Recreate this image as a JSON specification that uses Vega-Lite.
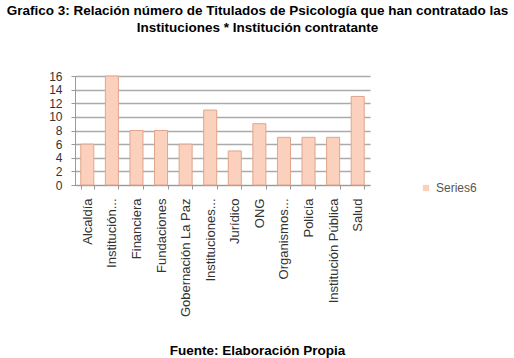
{
  "$schema": "https://vega.github.io/schema/vega-lite/v6.json",
  "width": 295,
  "height": 109,
  "autosize": {"type": "none"},
  "padding": {"left": 75, "top": 76, "right": 144, "bottom": 173},
  "background": "white",
  "title": {
    "text": ["Grafico 3: Relación número de Titulados de Psicología que han contratado las", "Instituciones * Institución contratante"],
    "font": "Liberation Sans",
    "fontSize": 13.5,
    "fontWeight": "bold",
    "color": "#000000",
    "anchor": "middle",
    "frame": "group",
    "dx": 35,
    "offset": 36,
    "lineHeight": 16.5
  },
  "data": {
    "values": [
      {"institucion": "Alcaldía", "n": 6},
      {"institucion": "Institución...", "n": 16},
      {"institucion": "Financiera", "n": 8},
      {"institucion": "Fundaciones", "n": 8},
      {"institucion": "Gobernación La Paz", "n": 6},
      {"institucion": "Instituciones...", "n": 11},
      {"institucion": "Jurídico", "n": 5},
      {"institucion": "ONG", "n": 9},
      {"institucion": "Organismos...", "n": 7},
      {"institucion": "Policía", "n": 7},
      {"institucion": "Institución Pública", "n": 7},
      {"institucion": "Salud", "n": 13}
    ]
  },
  "mark": {"type": "bar", "stroke": "#e0a58c", "strokeWidth": 1},
  "encoding": {
    "x": {
      "field": "institucion",
      "type": "nominal",
      "sort": null,
      "scale": {"paddingInner": 0.47, "paddingOuter": 0.235},
      "axis": {
        "title": "Fuente: Elaboración Propia",
        "titleFont": "Liberation Sans",
        "titleFontSize": 13.5,
        "titleFontWeight": "bold",
        "titleColor": "#000000",
        "titleX": 182,
        "titleY": 169,
        "titleAlign": "center",
        "titleBaseline": "alphabetic",
        "titleAnchor": null,
        "labelAngle": -90,
        "labelAlign": "right",
        "labelBaseline": "middle",
        "labelFont": "Liberation Sans",
        "labelFontSize": 13,
        "labelColor": "#333333",
        "labelLimit": 0,
        "labelPadding": 9,
        "tickSize": 4,
        "tickBand": "extent",
        "tickColor": "#999999",
        "domainColor": "#999999",
        "grid": false
      }
    },
    "y": {
      "field": "n",
      "type": "quantitative",
      "scale": {"domain": [0, 16], "nice": false},
      "axis": {
        "title": null,
        "values": [0, 2, 4, 6, 8, 10, 12, 14, 16],
        "labelFont": "Liberation Sans",
        "labelFontSize": 12,
        "labelColor": "#333333",
        "labelPadding": 9,
        "tickSize": 4,
        "tickColor": "#999999",
        "domainColor": "#999999",
        "grid": true,
        "gridColor": "#aaaaaa",
        "gridWidth": 1.5
      }
    },
    "color": {
      "datum": "Series6",
      "type": "nominal",
      "scale": {"range": ["#fbd0bd"]},
      "legend": {
        "title": null,
        "orient": "none",
        "legendX": 345,
        "legendY": 106,
        "symbolType": "square",
        "symbolSize": 40,
        "symbolStrokeWidth": 0,
        "labelFont": "Liberation Sans",
        "labelFontSize": 12,
        "labelColor": "#555555"
      }
    }
  },
  "config": {"view": {"stroke": null}}
}
